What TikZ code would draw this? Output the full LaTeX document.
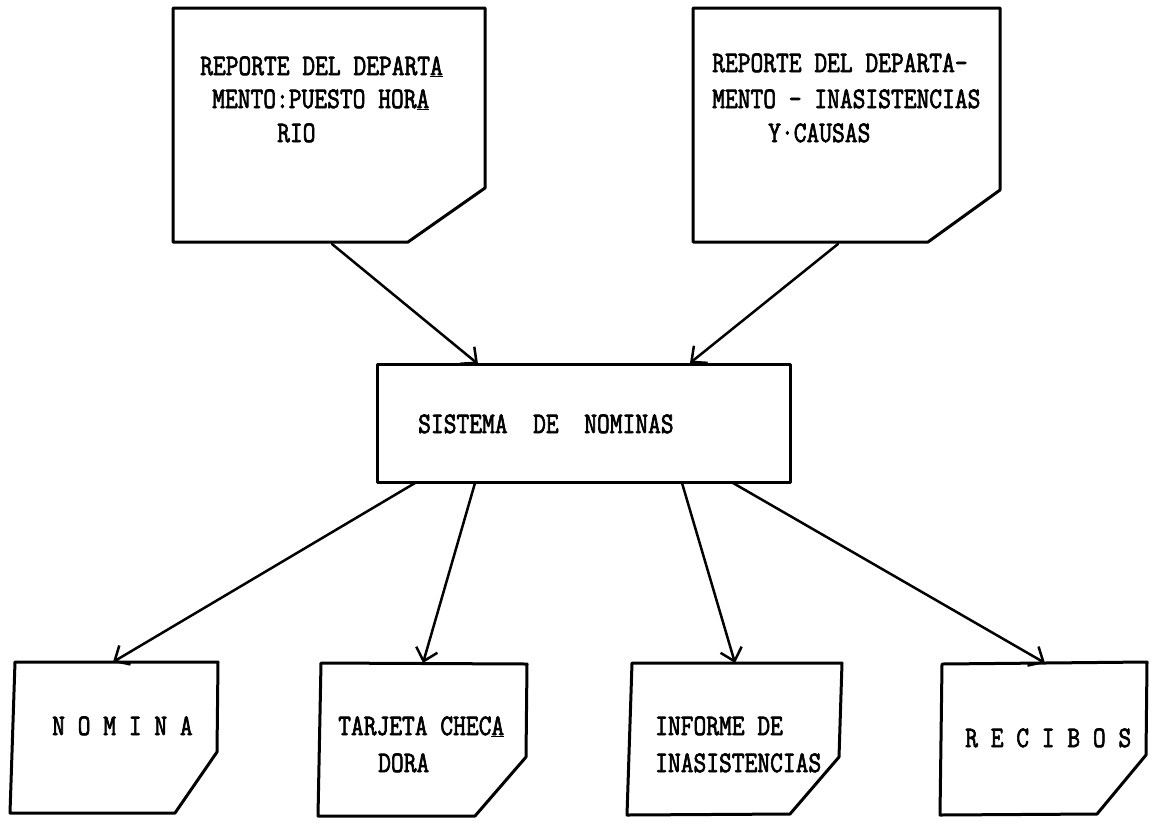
\documentclass[tikz,border=0pt]{standalone}
\usepackage{fontspec}
\usepackage{graphicx}
\newfontfamily\typewriter{Latin Modern Mono}[FakeBold=2.5]
\newcommand{\tall}[1]{\scalebox{1}[1.2]{#1}}
\usetikzlibrary{arrows.meta}
\begin{document}
\begin{tikzpicture}[x=1pt,y=-1pt,
  outline/.style={line width=3pt, line join=round, line cap=round},
  flow/.style={line width=2.5pt, line cap=round,
    -{Straight Barb[length=12pt,width=22pt,line width=2.5pt]}},
  txt/.style={anchor=base west, inner sep=0pt,
    font=\typewriter\fontsize{24.8}{30}\selectfont}]
\useasboundingbox (0,0) rectangle (1153,823);
\fill[white] (0,0) rectangle (1153,823);

% input documents
\draw[outline] (173,8) -- (485,8) -- (485,188) -- (408,242) -- (173,242) -- cycle;
\node[txt] (repA1) at (200,75) {\tall{REPORTE DEL DEPART\underline{A}}};
\node[txt] (repA2) at (212,108) {\tall{MENTO:PUESTO HOR\underline{A}}};
\node[txt] (repA3) at (277,142) {\tall{RIO}};
\coordinate (repAout) at (332,244);

\draw[outline] (693,8) -- (1000,8) -- (1000,190) -- (928,242) -- (693,242) -- cycle;
\node[txt] (repB1) at (712,72) {\tall{REPORTE DEL DEPARTA-}};
\node[txt] (repB2) at (712,108) {\tall{MENTO - INASISTENCIAS}};
\node[txt] (repB3) at (768,142) {\tall{Y·CAUSAS}};
\coordinate (repBout) at (838,244);

% payroll system
\draw[outline] (377,364) rectangle (790,482);
\node[txt] (sis) at (418,433) {\tall{SISTEMA\ \ DE\ \ NOMINAS}};
\coordinate (sisinA) at (478,364);
\coordinate (sisinB) at (690,363);
\coordinate (sisout1) at (415,483);
\coordinate (sisout2) at (475,483);
\coordinate (sisout3) at (682,483);
\coordinate (sisout4) at (733,483);

% output documents
\draw[outline] (15,662) -- (218,662) -- (217,752) -- (175,813) -- (10,813) -- cycle;
\node[txt] (nom) at (52,735) {\tall{N O M I N A}};
\coordinate (nomin) at (113,662);

\draw[outline] (321,663) -- (527,664) -- (526,757) -- (475,816) -- (318,816) -- cycle;
\node[txt] (tar1) at (338,735) {\tall{TARJETA CHEC\underline{A}}};
\node[txt] (tar2) at (378,772) {\tall{DORA}};
\coordinate (tarin) at (423,663);

\draw[outline] (632,663) -- (842,663) -- (839,757) -- (790,814) -- (627,815) -- cycle;
\node[txt] (inf1) at (655,735) {\tall{INFORME DE}};
\node[txt] (inf2) at (655,772) {\tall{INASISTENCIAS}};
\coordinate (infin) at (735,663);

\draw[outline] (942,664) -- (1147,662) -- (1146,755) -- (1097,814) -- (940,815) -- cycle;
\node[txt] (rec) at (965,747) {\tall{R E C I B O S}};
\coordinate (recin) at (1045,663);

% flows
\draw[flow] (repAout) -- (sisinA);
\draw[flow] (repBout) -- (sisinB);
\draw[flow] (sisout1) -- (nomin);
\draw[flow] (sisout2) -- (tarin);
\draw[flow] (sisout3) -- (infin);
\draw[flow] (sisout4) -- (recin);
\end{tikzpicture}
\end{document}
